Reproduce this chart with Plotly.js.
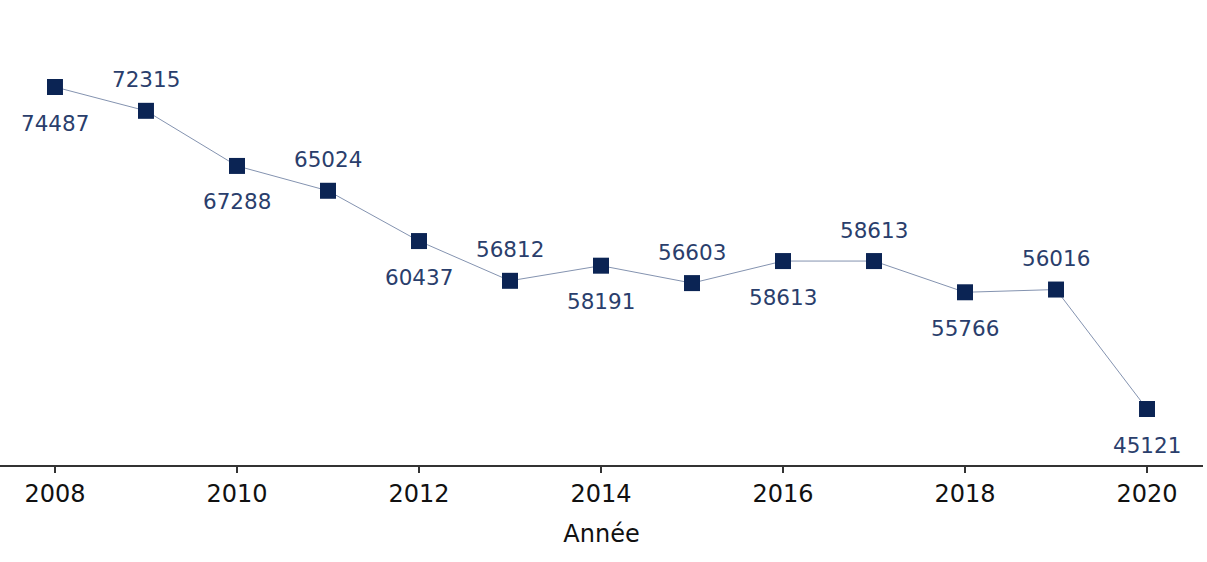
<!DOCTYPE html>
<html>
<head>
<meta charset="utf-8">
<script src="https://cdn.plot.ly/plotly-3.0.1.min.js"></script>
<style>html,body{margin:0;padding:0;background:#fff;}#chart{width:1207px;height:562px;}</style>
</head>
<body>
<div id="chart"></div>
<script>
const years = [2008, 2009, 2010, 2011, 2012, 2013, 2014, 2015, 2016, 2017, 2018, 2019, 2020];
const values = [74487, 72315, 67288, 65024, 60437, 56812, 58191, 56603, 58613, 58613, 55766, 56016, 45121];
const labelSide = ['below', 'above', 'below', 'above', 'below', 'above', 'below', 'above', 'below', 'above', 'below', 'above', 'below'];
const tickYears = [2008, 2010, 2012, 2014, 2016, 2018, 2020];

const annotations = years.map((yr, i) => ({
  x: yr, y: values[i], xref: 'x', yref: 'y',
  text: String(values[i]), showarrow: false,
  yshift: labelSide[i] === 'below' ? -36 : 31,
  font: {family: 'DejaVu Sans', size: 21.5, color: '#2a3e6c'}
}));

const trace = {
  x: years, y: values, type: 'scatter', mode: 'lines+markers',
  line: {color: '#8493b0', width: 1},
  marker: {symbol: 'square', size: 16, color: '#0b2454'},
  hoverinfo: 'x+y'
};

const layout = {
  width: 1207, height: 562,
  margin: {l: 0, r: 4, t: 20, b: 97},
  paper_bgcolor: '#fff', plot_bgcolor: '#fff',
  showlegend: false,
  xaxis: {
    range: [2007.396, 2020.615],
    tickvals: tickYears, ticktext: tickYears.map(String),
    showgrid: false, zeroline: false,
    showline: true, linecolor: '#333', linewidth: 2,
    ticks: 'outside', ticklen: 6, tickwidth: 2, tickcolor: '#333',
    tickfont: {family: 'DejaVu Sans', size: 24, color: '#111'},
    title: {text: 'Année', font: {family: 'DejaVu Sans', size: 24, color: '#111'}, standoff: 18}
  },
  yaxis: {
    range: [40014, 80598],
    visible: false, showgrid: false, zeroline: false
  },
  annotations: annotations
};

Plotly.newPlot('chart', [trace], layout, {staticPlot: true});
</script>
</body>
</html>
